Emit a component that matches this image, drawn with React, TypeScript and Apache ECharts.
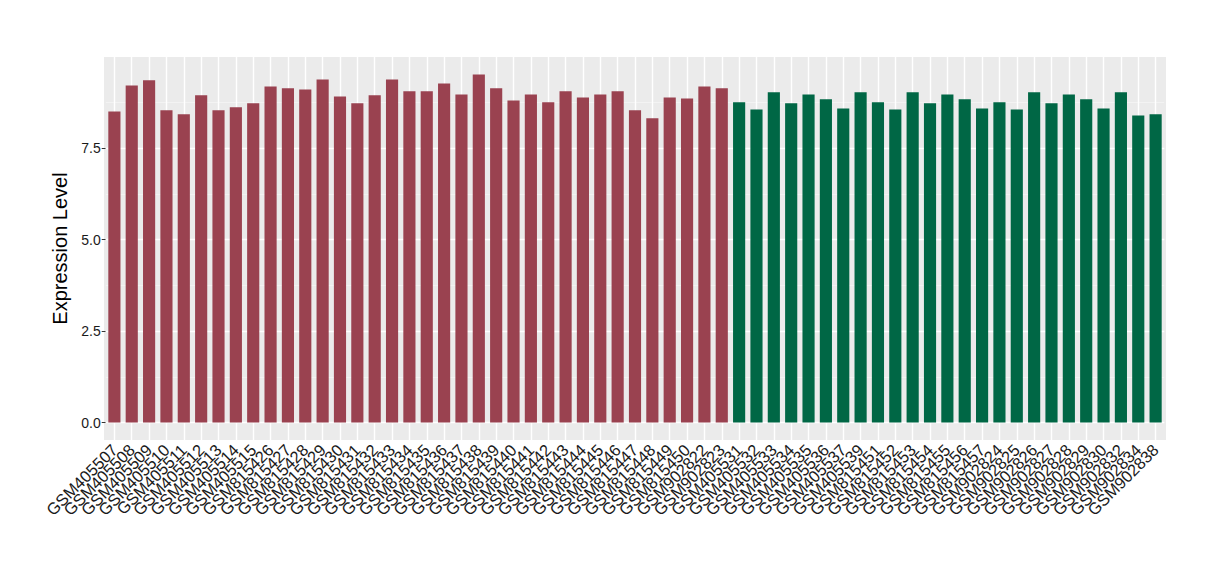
import React, { useEffect, useRef } from "react";
import * as echarts from "echarts";

const redSamples = [
  "GSM405507", "GSM405508", "GSM405509", "GSM405510", "GSM405511", "GSM405512",
  "GSM405513", "GSM405514", "GSM405515", "GSM815426", "GSM815427", "GSM815428",
  "GSM815429", "GSM815430", "GSM815431", "GSM815432", "GSM815433", "GSM815434",
  "GSM815435", "GSM815436", "GSM815437", "GSM815438", "GSM815439", "GSM815440",
  "GSM815441", "GSM815442", "GSM815443", "GSM815444", "GSM815445", "GSM815446",
  "GSM815447", "GSM815448", "GSM815449", "GSM815450", "GSM902822", "GSM902823",
];
const redValues = [
  8.5, 9.21, 9.35, 8.53, 8.42, 8.94, 8.53, 8.61, 8.72, 9.18, 9.13, 9.1,
  9.37, 8.91, 8.72, 8.94, 9.37, 9.05, 9.05, 9.26, 8.96, 9.51, 9.13, 8.8,
  8.96, 8.75, 9.05, 8.88, 8.96, 9.05, 8.53, 8.31, 8.88, 8.85, 9.18, 9.13,
];
const greenSamples = [
  "GSM405531", "GSM405532", "GSM405533", "GSM405534", "GSM405535", "GSM405536",
  "GSM405537", "GSM405539", "GSM815451", "GSM815452", "GSM815453", "GSM815454",
  "GSM815455", "GSM815456", "GSM815457", "GSM902824", "GSM902825", "GSM902826",
  "GSM902827", "GSM902828", "GSM902829", "GSM902830", "GSM902832", "GSM902834",
  "GSM902838",
];
const greenValues = [
  8.75, 8.55, 9.02, 8.72, 8.96, 8.83, 8.58, 9.02, 8.75, 8.55, 9.02, 8.72,
  8.96, 8.83, 8.58, 8.75, 8.55, 9.02, 8.72, 8.96, 8.83, 8.58, 9.02, 8.39,
  8.42,
];
const yMajorTicks = [0, 2.5, 5, 7.5];
const yMinorTicks = [1.25, 3.75, 6.25, 8.75];

const RED = "#9A4250";
const GREEN = "#006745";

export default function App() {
  const ref = useRef<HTMLDivElement>(null);
  useEffect(() => {
    document.body.style.margin = "0";
    const chart = echarts.init(ref.current!, null, { renderer: "svg" });
    const categories = [...redSamples, ...greenSamples];
    const data = [
      ...redValues.map((v) => ({ value: v, itemStyle: { color: RED } })),
      ...greenValues.map((v) => ({ value: v, itemStyle: { color: GREEN } })),
    ];
    const maxV = Math.max(...redValues, ...greenValues);
    const font = "'Liberation Sans', Arial, sans-serif";
    // panel spans 104..1166; ggplot adds 0.6 category of padding on each side
    const panelLeft = 104;
    const panelRight = 1166;
    const unit = (panelRight - panelLeft) / (categories.length + 1.2);
    const pad = unit * 0.1;
    chart.setOption({
      animation: false,
      textStyle: { fontFamily: font },
      graphic: {
        elements: [
          {
            type: "rect",
            z: -10,
            silent: true,
            shape: { x: panelLeft, y: 57, width: panelRight - panelLeft, height: 383 },
            style: { fill: "#EBEBEB" },
          },
        ],
      },
      grid: {
        left: panelLeft + pad,
        right: 1220 - panelRight + pad,
        top: 57,
        bottom: 140,
        show: false,
      },
      xAxis: {
        type: "category",
        data: categories,
        axisLine: { show: false },
        axisTick: { show: true, alignWithLabel: true, length: 4, lineStyle: { color: "#333333", width: 1 } },
        axisLabel: {
          interval: 0,
          rotate: 45,
          fontSize: 16.5,
          color: "#1A1A1A",
          margin: 7,
          fontFamily: font,
        },
        splitLine: { show: false },
      },
      yAxis: {
        type: "value",
        min: -0.05 * maxV,
        max: maxV * 1.05,
        name: "Expression Level",
        nameLocation: "middle",
        nameGap: 27,
        nameTextStyle: { fontSize: 20, color: "#000000", fontFamily: font },
        axisLine: { show: false },
        axisTick: {
          show: true,
          length: 4,
          customValues: yMajorTicks,
          lineStyle: { color: "#333333" },
        },
        axisLabel: {
          customValues: yMajorTicks,
          formatter: (v: number) => v.toFixed(1),
          fontSize: 14,
          color: "#1A1A1A",
          margin: 5,
          fontFamily: font,
        },
        splitLine: { show: false },
      },
      series: [
        {
          type: "line",
          data: [],
          z: 1,
          silent: true,
          markLine: {
            silent: true,
            symbol: "none",
            animation: false,
            z: 1,
            label: { show: false },
            data: [
              ...yMinorTicks.map((v) => ({
                yAxis: v,
                lineStyle: { color: "#F5F5F5", width: 0.8, type: "solid" },
              })),
              ...yMajorTicks.map((v) => ({
                yAxis: v,
                lineStyle: { color: "#FFFFFF", width: 1.4, type: "solid" },
              })),
              ...categories.map((c) => ({
                xAxis: c,
                lineStyle: { color: "#FFFFFF", width: 1.4, type: "solid" },
              })),
            ],
          },
        },
        {
          type: "bar",
          data,
          z: 3,
          barWidth: "70%",
        },
      ],
    });
    return () => chart.dispose();
  }, []);
  return <div ref={ref} style={{ width: 1220, height: 580 }} />;
}
